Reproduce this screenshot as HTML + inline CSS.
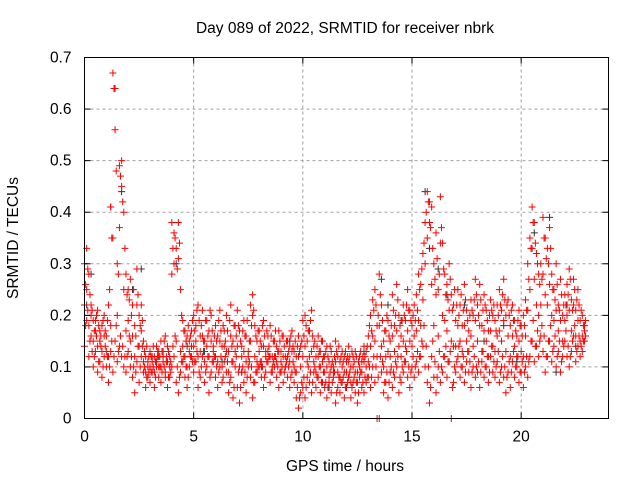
<!DOCTYPE html>
<html><head><meta charset="utf-8"><style>
body{margin:0;background:#fff}
svg{display:block;font-family:"Liberation Sans",sans-serif}
</style></head><body>
<svg id="chart" width="640" height="480" viewBox="0 0 640 480" xmlns="http://www.w3.org/2000/svg">
<rect width="640" height="480" fill="#fff"/>
<g id="grid"></g>
<g id="marks"></g>
<rect x="84.5" y="57.5" width="524" height="361" fill="none" stroke="#000" stroke-width="1"/>
<g id="ticks"></g>
<text x="345" y="33" font-size="15.5" text-anchor="middle" fill="#000">Day 089 of 2022, SRMTID for receiver nbrk</text>
<text transform="translate(18,238) rotate(-90)" font-size="15.5" text-anchor="middle" fill="#000">SRMTID / TECUs</text>
<text x="345" y="471" font-size="15.5" text-anchor="middle" fill="#000">GPS time / hours</text>
</svg>
<script>
const xTicks=[0,5,10,15,20];
const yTicks=[0,0.1,0.2,0.3,0.4,0.5,0.6,0.7];
const yTickLabels=["0","0.1","0.2","0.3","0.4","0.5","0.6","0.7"];
const startHour=0, stepHours=0.1, offsetHours=0.05;
const seriesHigh=[.30,.33,.28,.22,.19,.17,.21,.15,.18,.20,
.16,.22,.41,.67,.56,.30,.49,.50,.40,.28,
.25,.27,.22,.18,.29,.20,.22,.15,.12,.11,
.13,.11,.12,.14,.10,.15,.13,.16,.14,.12,
.38,.36,.33,.38,.25,.19,.17,.16,.15,.17,
.20,.18,.22,.16,.21,.15,.19,.17,.20,.14,
.18,.16,.21,.14,.17,.20,.13,.22,.15,.18,
.21,.17,.14,.19,.16,.13,.22,.24,.18,.15,
.17,.14,.19,.13,.16,.18,.12,.15,.14,.17,
.13,.16,.12,.15,.14,.17,.13,.12,.16,.14,
.19,.20,.15,.17,.21,.14,.12,.16,.13,.15,
.12,.14,.11,.13,.10,.15,.12,.11,.13,.12,
.11,.14,.10,.12,.13,.09,.12,.11,.14,.13,
.16,.20,.23,.25,.18,.28,.22,.15,.17,.19,
.15,.24,.18,.26,.20,.16,.22,.19,.25,.21,
.18,.22,.24,.28,.26,.32,.38,.44,.42,.41,
.30,.36,.25,.43,.34,.28,.26,.30,.24,.22,
.19,.25,.22,.18,.26,.21,.17,.23,.20,.27,
.22,.26,.18,.24,.21,.17,.23,.20,.19,.22,
.25,.21,.27,.20,.23,.18,.22,.19,.16,.21,
.18,.20,.23,.30,.35,.41,.38,.32,.28,.30,
.39,.35,.33,.37,.28,.25,.30,.22,.27,.20,
.24,.26,.29,.23,.27,.21,.25,.19,.20,.18];
const seriesMid=[.22,.25,.18,.20,.15,.19,.14,.17,.13,.16,
.13,.12,.18,.35,.64,.20,.37,.45,.25,.17,
.19,.15,.16,.12,.22,.14,.17,.11,.09,.10,
.10,.12,.09,.11,.13,.10,.12,.08,.11,.10,
.28,.30,.15,.31,.13,.14,.12,.10,.13,.14,
.14,.15,.12,.13,.16,.11,.14,.12,.15,.13,
.12,.11,.15,.10,.14,.13,.09,.16,.11,.13,
.14,.10,.12,.13,.11,.12,.15,.20,.12,.11,
.13,.11,.14,.12,.13,.12,.10,.12,.11,.13,
.11,.12,.10,.12,.11,.13,.10,.09,.12,.10,
.12,.14,.11,.12,.13,.11,.09,.12,.10,.11,
.09,.10,.08,.10,.09,.11,.09,.08,.10,.09,
.09,.11,.07,.10,.09,.07,.10,.09,.11,.10,
.11,.14,.16,.15,.12,.18,.14,.10,.12,.13,
.12,.16,.13,.17,.14,.12,.15,.14,.17,.15,
.14,.16,.17,.19,.18,.23,.30,.35,.38,.26,
.18,.24,.16,.34,.20,.19,.17,.21,.15,.14,
.14,.18,.15,.13,.18,.15,.13,.16,.14,.19,
.15,.18,.13,.17,.15,.12,.17,.14,.13,.16,
.17,.15,.19,.13,.16,.12,.16,.14,.12,.15,
.13,.12,.16,.21,.25,.33,.27,.22,.20,.22,
.28,.24,.22,.26,.20,.19,.21,.17,.19,.15,
.19,.20,.21,.17,.22,.16,.19,.15,.16,.17];
const seriesLow=[.14,.19,.12,.16,.10,.13,.09,.11,.08,.12,
.10,.07,.13,.09,.15,.11,.14,.12,.10,.09,
.13,.10,.08,.05,.11,.07,.12,.09,.06,.08,
.07,.09,.06,.10,.08,.07,.11,.09,.06,.08,
.10,.12,.07,.05,.09,.11,.08,.06,.10,.12,
.09,.11,.06,.08,.12,.07,.10,.05,.09,.11,
.08,.06,.10,.07,.11,.09,.05,.08,.04,.10,
.06,.03,.09,.07,.05,.10,.08,.04,.07,.09,
.10,.08,.06,.09,.11,.07,.09,.10,.08,.06,
.09,.07,.10,.08,.06,.09,.07,.04,.02,.05,
.06,.04,.08,.07,.05,.09,.06,.08,.05,.07,
.06,.04,.07,.05,.08,.03,.06,.05,.07,.04,
.06,.08,.04,.07,.05,.03,.08,.06,.05,.07,
.08,.06,.10,.07,.00,.00,.09,.05,.07,.04,
.09,.06,.08,.10,.05,.07,.09,.11,.08,.06,
.10,.08,.11,.09,.12,.14,.10,.07,.03,.12,
.08,.05,.10,.07,.09,.12,.08,.11,.00,.07,
.09,.12,.08,.10,.07,.11,.09,.06,.10,.08,
.09,.06,.11,.08,.10,.07,.12,.09,.08,.11,
.07,.10,.08,.05,.09,.06,.11,.08,.10,.07,
.09,.06,.10,.08,.12,.15,.11,.14,.12,.16,
.13,.09,.12,.15,.11,.14,.10,.13,.09,.12,
.15,.12,.10,.13,.16,.11,.14,.12,.13,.15];
const seriesUpperOffset=[.26,.29,.24,.21,.17,.20,.18,.16,.19,.17,
.19,.25,.35,.64,.48,.28,.47,.42,.33,.24,
.23,.20,.25,.16,.24,.18,.19,.13,.14,.12,
.12,.14,.11,.13,.12,.13,.15,.12,.13,.11,
.33,.35,.29,.34,.20,.17,.15,.18,.16,.19,
.17,.21,.19,.18,.15,.19,.16,.21,.17,.16,
.15,.19,.17,.18,.15,.17,.19,.14,.18,.16,
.18,.15,.17,.16,.19,.15,.18,.21,.16,.17,
.15,.18,.16,.17,.14,.16,.15,.17,.13,.15,
.16,.14,.15,.13,.16,.14,.15,.14,.13,.15,
.16,.18,.17,.19,.16,.15,.14,.13,.15,.12,
.13,.12,.14,.11,.12,.13,.14,.12,.11,.13,
.12,.12,.13,.11,.12,.11,.13,.12,.12,.14,
.18,.17,.21,.22,.20,.24,.19,.17,.20,.16,
.18,.21,.20,.23,.18,.19,.20,.22,.21,.19,
.20,.19,.21,.25,.29,.34,.40,.42,.37,.33,
.27,.31,.28,.37,.29,.24,.23,.27,.21,.25,
.22,.20,.24,.21,.23,.19,.20,.21,.23,.24,
.20,.23,.21,.22,.19,.20,.21,.22,.17,.20,
.22,.24,.23,.22,.20,.21,.19,.17,.19,.18,
.16,.18,.21,.27,.33,.38,.34,.30,.26,.27,
.35,.31,.30,.33,.25,.23,.26,.21,.24,.22,
.22,.24,.27,.21,.25,.23,.22,.21,.18,.19];
const seriesLowerOffset=[.18,.21,.15,.13,.12,.16,.11,.14,.10,.14,
.12,.10,.15,.12,.18,.13,.16,.14,.12,.12,
.16,.12,.10,.09,.14,.10,.14,.10,.08,.09,
.09,.10,.08,.12,.10,.09,.10,.11,.08,.09,
.14,.16,.10,.08,.11,.12,.10,.08,.12,.11,
.11,.13,.09,.10,.13,.09,.12,.08,.11,.12,
.10,.09,.12,.08,.12,.11,.07,.11,.06,.12,
.09,.06,.10,.09,.08,.11,.10,.07,.09,.10,
.11,.10,.08,.11,.12,.09,.11,.12,.10,.09,
.10,.09,.11,.10,.08,.11,.09,.06,.04,.07,
.08,.06,.10,.09,.07,.10,.08,.10,.07,.09,
.07,.06,.09,.07,.09,.05,.08,.07,.08,.06,
.07,.09,.06,.08,.07,.05,.09,.07,.08,.08,
.10,.08,.12,.10,.08,.12,.11,.07,.09,.07,
.10,.09,.11,.12,.08,.10,.11,.13,.10,.09,
.12,.10,.13,.12,.15,.18,.14,.10,.06,.15,
.11,.08,.13,.10,.12,.14,.11,.13,.06,.10,
.11,.14,.10,.12,.09,.13,.11,.09,.12,.10,
.11,.09,.13,.10,.12,.09,.14,.11,.10,.13,
.09,.12,.10,.08,.11,.09,.13,.10,.12,.09,
.11,.09,.12,.11,.15,.19,.14,.17,.15,.18,
.16,.12,.15,.18,.13,.16,.12,.15,.11,.14,
.17,.14,.12,.15,.18,.13,.16,.14,.15,.16];
const grayTimes=[0.1,0.3,1.2,1.7,2.2,2.6,3.4,4.2,4.7,5.5,6.3,7.2,8.1,9.4,10.3,11.2,12.1,12.8,13.6,13.9,14.5,15.6,15.8,16.2,16.6,17.4,18.3,19.2,19.8,20.6,21.3,21.6,22.1,22.5];
const grayValues=[0.22,0.28,0.41,0.44,0.25,0.29,0.12,0.30,0.14,0.13,0.11,0.09,0.10,0.15,0.17,0.06,0.08,0.13,0.27,0.22,0.19,0.44,0.33,0.29,0.24,0.22,0.15,0.18,0.11,0.36,0.39,0.09,0.22,0.14];

const L=84.5,R=608.5,T=57.5,B=418.5,XMAX=24,YMAX=0.7;
const xs=h=>L+(R-L)*h/XMAX;
const ys=v=>B-(B-T)*v/YMAX;
const NS="http://www.w3.org/2000/svg";
const grid=document.getElementById('grid'),ticks=document.getElementById('ticks'),marks=document.getElementById('marks');
function mk(tag,attrs,parent){const e=document.createElementNS(NS,tag);for(const k in attrs)e.setAttribute(k,attrs[k]);parent.appendChild(e);return e;}
yTicks.forEach((v,i)=>{const y=ys(v);
 if(i>0&&i<yTicks.length-1){const g=mk('line',{x1:L,x2:R,y1:y,y2:y,stroke:'#a0a0a0','stroke-dasharray':'3,3'},grid);
 
 }
 const t=mk('line',{x1:L,x2:L+6,y1:y,y2:y,stroke:'#000'},ticks);
 
 
 const t2=mk('line',{x1:R,x2:R-6,y1:y,y2:y,stroke:'#000'},ticks);
 
 
 const lb=mk('text',{x:L-13,y:y+5,'font-size':15.5,'text-anchor':'end',fill:'#000'},ticks);lb.textContent=yTickLabels[i];
 
 
});
xTicks.forEach(h=>{const x=xs(h);
 if(h>0){const g=mk('line',{x1:x,x2:x,y1:T,y2:B,stroke:'#a0a0a0','stroke-dasharray':'3,3'},grid);
 
 }
 const t=mk('line',{x1:x,x2:x,y1:B,y2:B-6,stroke:'#000'},ticks);
 
 
 const t2=mk('line',{x1:x,x2:x,y1:T,y2:T+6,stroke:'#000'},ticks);
 
 
 const lb=mk('text',{x:x,y:B+23,'font-size':15.5,'text-anchor':'middle',fill:'#000'},ticks);lb.textContent=String(h);
 
 
});
function plus(h,v,color,name){const x=xs(h),y=ys(v);
 const p=mk('path',{d:`M${x-3.5},${y}h7M${x},${y-3.5}v7`,stroke:color,'stroke-width':1,fill:'none'},marks);
 
 }
grayTimes.forEach((h,i)=>plus(h,grayValues[i],'#333','gray-point'));
[seriesLow,seriesMid,seriesHigh].forEach(arr=>arr.forEach((v,i)=>plus(startHour+i*stepHours,v,'#ff0000','srmtid-point')));
[seriesLowerOffset,seriesUpperOffset].forEach(arr=>arr.forEach((v,i)=>plus(startHour+offsetHours+i*stepHours,v,'#ff0000','srmtid-point')));
</script>
</body></html>
